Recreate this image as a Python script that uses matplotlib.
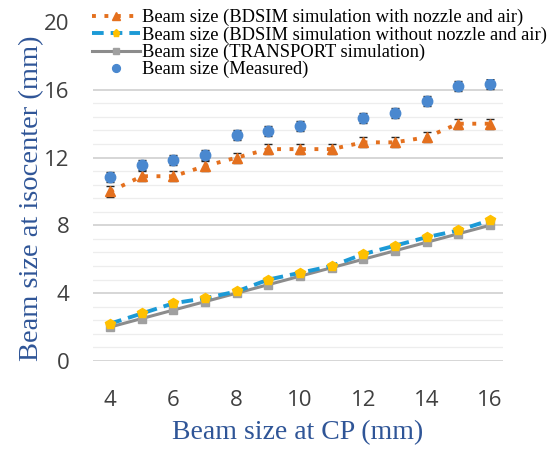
import numpy as np
import matplotlib.pyplot as plt

cp_size = [4, 5, 6, 7, 8, 9, 10, 11, 12, 13, 14, 15, 16]
bdsim_nozzle = [10.0, 10.9, 10.9, 11.5, 12.0, 12.5, 12.5, 12.5, 12.9, 12.9, 13.2, 14.0, 14.0]
bdsim_no_nozzle = [2.2, 2.8, 3.4, 3.7, 4.1, 4.8, 5.2, 5.6, 6.3, 6.8, 7.3, 7.7, 8.3]
transport = [2.0, 2.5, 3.0, 3.5, 4.0, 4.5, 5.0, 5.5, 6.0, 6.5, 7.0, 7.5, 8.0]
meas_x = [4, 5, 6, 7, 8, 9, 10, 12, 13, 14, 15, 16]
measured = [10.85, 11.55, 11.85, 12.15, 13.35, 13.55, 13.85, 14.35, 14.65, 15.35, 16.25, 16.35]
nozzle_err = 0.3
meas_err = 0.3

fig = plt.figure(figsize=(5.51, 4.5), dpi=100)
ax = fig.add_axes([0.169, 0.198, 0.744, 0.753])

serif = 'Liberation Serif'
label_col = '#2F5597'

# gridlines: major every 4, minor every 0.8
for y in np.arange(0, 20.01, 0.8):
    major = abs(y / 4 - round(y / 4)) < 1e-6
    ax.axhline(y, color='#D0D0D0' if major else '#EDEDED', lw=1.2 if major else 0.9, zorder=0)

ax.errorbar(cp_size, bdsim_nozzle, yerr=nozzle_err, fmt='none', ecolor='#222222',
            elinewidth=0.8, capsize=3, zorder=2)
l1, = ax.plot(cp_size, bdsim_nozzle, color='#E4701E', ls=(0, (1, 2.2)), lw=2.8,
              marker='^', ms=7.5, mfc='#E4701E', mec='#E4701E', zorder=3)
l2, = ax.plot(cp_size, bdsim_no_nozzle, color='#1C9AD6', ls=(0, (3, 1.8)), lw=2.8,
              marker='p', ms=7, mfc='#FFC000', mec='#FFC000', zorder=4)
l3, = ax.plot(cp_size, transport, color='#8C8C8C', lw=2.2,
              marker='s', ms=5.5, mfc='#A0A0A0', mec='#A0A0A0', zorder=3)
ax.errorbar(meas_x, measured, yerr=meas_err, fmt='none', ecolor='#222222',
            elinewidth=0.8, capsize=3, zorder=2)
l4, = ax.plot(meas_x, measured, ls='none', marker='o', ms=7.5,
              mfc='#4A88CF', mec='#4A88CF', zorder=3)

ax.set_ylim(0, 20)
ax.set_xlim(3.46, 16.42)
ax.set_yticks(range(0, 21, 4))
ax.set_xticks(range(4, 17, 2))
for s in ax.spines.values():
    s.set_visible(False)
ax.tick_params(length=0, labelsize=16, labelcolor='#404040')
ax.tick_params(axis='x', pad=21)
ax.tick_params(axis='y', pad=17)
for t in ax.get_xticklabels() + ax.get_yticklabels():
    t.set_fontfamily('Open Sans')

ax.set_xlabel('Beam size at CP (mm)', fontsize=20, family=serif, color=label_col, va='center')
ax.set_ylabel('Beam size at isocenter (mm)', fontsize=20.5, family=serif, color=label_col, va='center')
ax.xaxis.set_label_coords(0.5, -0.212)
ax.yaxis.set_label_coords(-0.149, 0.48)

leg = fig.legend([l1, l2, l3, l4],
                 ['Beam size (BDSIM simulation with nozzle and air)',
                  'Beam size (BDSIM simulation without nozzle and air)',
                  'Beam size (TRANSPORT simulation)',
                  'Beam size (Measured)'],
                 loc='upper left', bbox_to_anchor=(0.158, 0.99),
                 prop={'family': serif, 'size': 13.3}, frameon=True,
                 edgecolor='none', facecolor='white', framealpha=1,
                 handlelength=2.6, handletextpad=0.15, labelspacing=0.0,
                 borderpad=0.05, borderaxespad=0.2, markerscale=0.75)
leg.set_zorder(5)

fig.savefig('out.png', dpi=100)
